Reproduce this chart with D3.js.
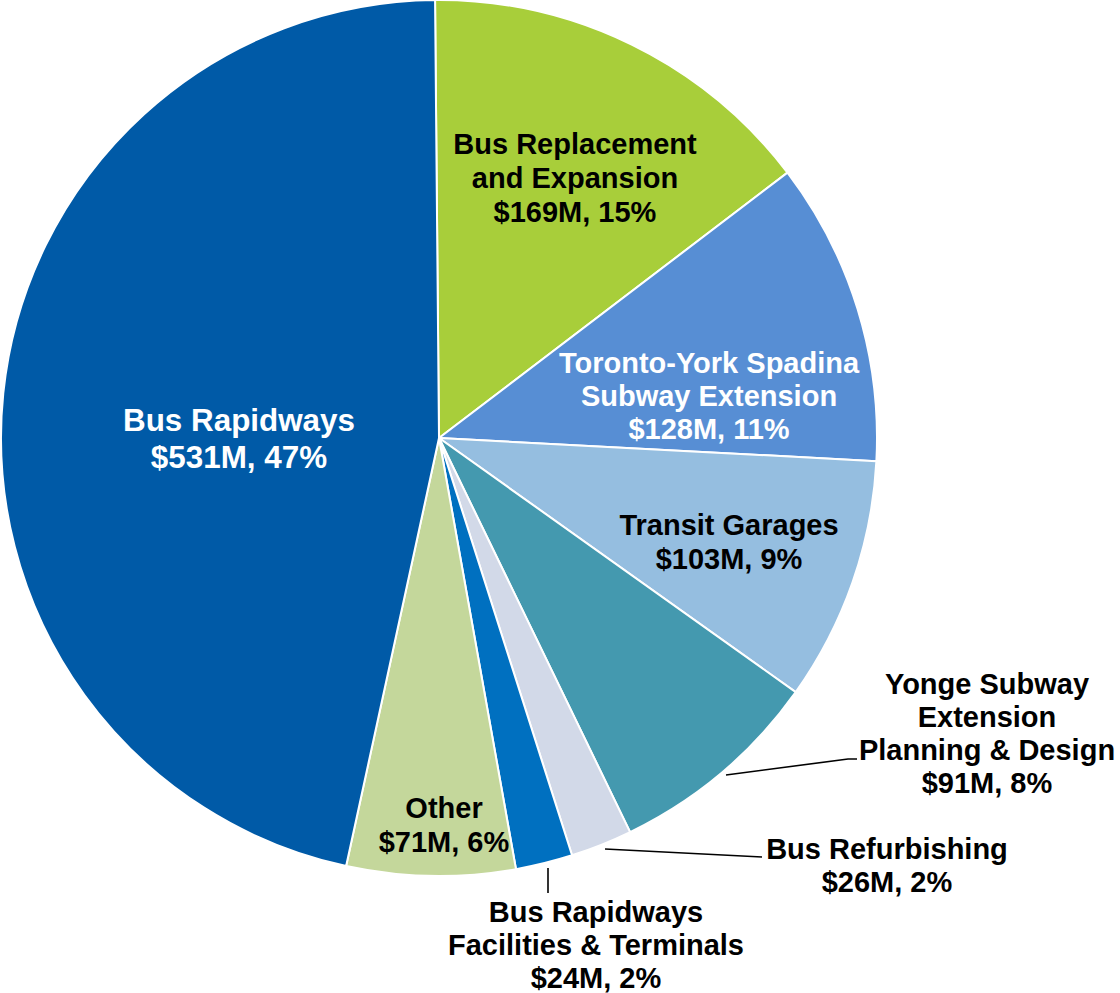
<!DOCTYPE html>
<html><head><meta charset="utf-8">
<script src="https://cdn.jsdelivr.net/npm/d3@7"></script>
<style>body{margin:0;background:#fff}svg{display:block}</style>
</head><body>
<svg id="c" width="1120" height="993"></svg>
<script>
const categories = ["Bus Replacement and Expansion","Toronto-York Spadina Subway Extension","Transit Garages","Yonge Subway Extension Planning & Design","Bus Refurbishing","Bus Rapidways Facilities & Terminals","Other","Bus Rapidways"];
const values = [169,128,103,91,26,24,71,531];
const percents = [15,11,9,8,2,2,6,47];
const labelLines = [
  ["Bus Replacement","and Expansion"],
  ["Toronto-York Spadina","Subway Extension"],
  ["Transit Garages"],
  ["Yonge Subway","Extension","Planning & Design"],
  ["Bus Refurbishing"],
  ["Bus Rapidways","Facilities & Terminals"],
  ["Other"],
  ["Bus Rapidways"]
];
const colors = ["#A8CE3A","#578ED4","#95BEE0","#4499AF","#D2D9E8","#0070C0","#C4D79B","#005AA7"];
const textColors = ["#000","#fff","#000","#000","#000","#000","#000","#fff"];
// label anchor positions (center x, first baseline y), font sizes, line spacing, leader lines
const labelPos = [[575,154],[709,373],[729,535],[987,694],[887,859],[596,922],[444,818],[239,431]];
const fontSizes = [29,29,29,29,29,29,29,31.4];
const lineGap = [34,33,34,33,33,33,34,37];
const leaders = [null,null,null,[[726,775],[848,759],[857,759]],[[605,849],[762,857]],[[548,868],[548,893]],null,null];

const svg = d3.select("#c");
const cx = 439, cy = 438, R = 438;
const g = svg.append("g").attr("transform",`translate(${cx},${cy})`);
const pie = d3.pie().sort(null).value(d=>d).startAngle(-0.009).endAngle(2*Math.PI-0.009);
const arc = d3.arc().innerRadius(0).outerRadius(R);
const arcs = pie(values);
g.selectAll("path").data(arcs).join("path")
  .attr("d",arc).attr("fill",(d,i)=>colors[i])
  .attr("stroke","#fff").attr("stroke-width",2).attr("stroke-linejoin","round");

leaders.forEach(l=>{
  if(!l) return;
  svg.append("path").attr("d",d3.line()(l)).attr("fill","none").attr("stroke","#000").attr("stroke-width",1.6);
});

labelLines.forEach((lines,i)=>{
  const all = lines.concat([`$${values[i]}M, ${percents[i]}%`]);
  const t = svg.append("text")
    .attr("x",labelPos[i][0]).attr("y",labelPos[i][1])
    .attr("text-anchor","middle")
    .attr("font-family","'Liberation Sans', Arial, sans-serif")
    .attr("font-weight","bold").attr("font-size",fontSizes[i])
    .attr("fill",textColors[i]);
  all.forEach((s,j)=>{
    t.append("tspan").attr("x",labelPos[i][0]).attr("dy", j===0?0:lineGap[i]).text(s);
  });
});
</script>
</body></html>
